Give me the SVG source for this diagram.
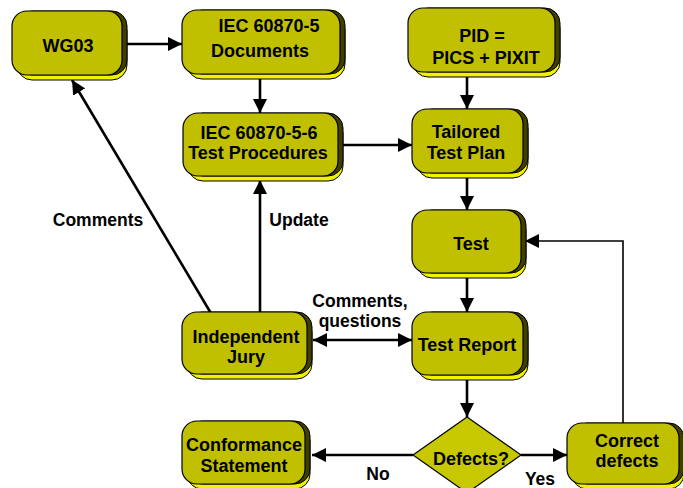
<svg xmlns="http://www.w3.org/2000/svg" width="683" height="488" viewBox="0 0 683 488">
  <style>
    .base { fill: #f2f200; stroke: #000; stroke-width: 1; }
    .side { fill: #3f3f00; stroke: #000; stroke-width: 1; }
    .face { fill: #c0c000; stroke: #000; stroke-width: 1.2; }
    .dia { fill: #c8c800; stroke: #000; stroke-width: 1.2; }
    text { font-family: "Liberation Sans", Arial, sans-serif; font-weight: bold; font-size: 18px; fill: #000; text-anchor: middle; }
    .lbl { font-size: 17.5px; }
    .wire { fill: none; stroke: #000; stroke-width: 2.6; }
    .thin { stroke-width: 1.6; }
  </style>
  <defs>
    <marker id="arrow" viewBox="0 0 14 14" refX="14" refY="7" markerWidth="14" markerHeight="14" markerUnits="userSpaceOnUse" orient="auto">
      <path d="M0,0 L14,7 L0,14 Z" fill="#000"/>
    </marker>
    <marker id="arrowStart" viewBox="0 0 14 14" refX="0" refY="7" markerWidth="14" markerHeight="14" markerUnits="userSpaceOnUse" orient="auto">
      <path d="M14,0 L0,7 L14,14 Z" fill="#000"/>
    </marker>
  </defs>

  <!-- connectors -->
  <g id="connectors">
    <line class="wire" x1="127" y1="44" x2="182" y2="44" marker-end="url(#arrow)"/>
    <line class="wire" x1="260" y1="78" x2="260" y2="113" marker-end="url(#arrow)"/>
    <line class="wire" x1="342" y1="145" x2="412" y2="145" marker-end="url(#arrow)"/>
    <line class="wire" x1="467" y1="75" x2="467" y2="109" marker-end="url(#arrow)"/>
    <line class="wire" x1="467" y1="177" x2="467" y2="210" marker-end="url(#arrow)"/>
    <line class="wire" x1="467" y1="277" x2="467" y2="312" marker-end="url(#arrow)"/>
    <line class="wire" x1="467" y1="379" x2="467" y2="417" marker-end="url(#arrow)"/>
    <line class="wire" x1="413" y1="455" x2="312" y2="455" marker-end="url(#arrow)"/>
    <line class="wire" x1="521" y1="455" x2="567" y2="455" marker-end="url(#arrow)"/>
    <polyline class="wire thin" points="623,423 623,241 525,241" marker-end="url(#arrow)"/>
    <line class="wire" x1="313" y1="340" x2="412" y2="340" marker-start="url(#arrowStart)" marker-end="url(#arrow)"/>
    <line class="wire" x1="260" y1="312" x2="260" y2="180" marker-end="url(#arrow)"/>
    <line class="wire" x1="212" y1="315" x2="72" y2="80" marker-end="url(#arrow)"/>
    <text class="lbl" x="98" y="226">Comments</text>
    <text class="lbl" x="299" y="226">Update</text>
    <text class="lbl" x="360" y="307">Comments,</text>
    <text class="lbl" x="360" y="327">questions</text>
    <text class="lbl" x="378" y="480">No</text>
    <text class="lbl" x="540" y="485">Yes</text>
  </g>

  <g id="wg03">
    <rect class="base" x="17" y="16" width="110" height="64" rx="15"/>
    <rect class="side" x="17" y="11" width="110" height="64" rx="15"/>
    <rect class="face" x="12" y="11" width="110" height="64" rx="15"/>
    <text x="68" y="52">WG03</text>
  </g>

  <g id="documents">
    <rect class="base" x="187" y="15" width="158" height="64" rx="15"/>
    <rect class="side" x="187" y="10" width="158" height="64" rx="15"/>
    <rect class="face" x="182" y="10" width="158" height="64" rx="15"/>
    <text x="269" y="32">IEC 60870-5</text>
    <text x="260" y="57">Documents</text>
  </g>

  <g id="test-procedures">
    <rect class="base" x="188" y="118" width="155" height="63" rx="15"/>
    <rect class="side" x="188" y="113" width="155" height="63" rx="15"/>
    <rect class="face" x="183" y="113" width="155" height="63" rx="15"/>
    <text x="259" y="139">IEC 60870-5-6</text>
    <text x="258" y="159">Test Procedures</text>
  </g>

  <g id="pid">
    <rect class="base" x="413" y="13" width="147" height="64" rx="15"/>
    <rect class="side" x="413" y="8" width="147" height="64" rx="15"/>
    <rect class="face" x="408" y="8" width="147" height="64" rx="15"/>
    <text x="482" y="42">PID =</text>
    <text x="486" y="64">PICS + PIXIT</text>
  </g>

  <g id="tailored-plan">
    <rect class="base" x="417" y="114" width="111" height="64" rx="15"/>
    <rect class="side" x="417" y="109" width="111" height="64" rx="15"/>
    <rect class="face" x="412" y="109" width="111" height="64" rx="15"/>
    <text x="466" y="138">Tailored</text>
    <text x="466" y="159">Test Plan</text>
  </g>

  <g id="test">
    <rect class="base" x="417" y="215" width="109" height="63" rx="15"/>
    <rect class="side" x="417" y="210" width="109" height="63" rx="15"/>
    <rect class="face" x="412" y="210" width="109" height="63" rx="15"/>
    <text x="471" y="250">Test</text>
  </g>

  <g id="test-report">
    <rect class="base" x="417" y="317" width="111" height="63" rx="15"/>
    <rect class="side" x="417" y="312" width="111" height="63" rx="15"/>
    <rect class="face" x="412" y="312" width="111" height="63" rx="15"/>
    <text x="467" y="351">Test Report</text>
  </g>

  <g id="jury">
    <rect class="base" x="187" y="317" width="125" height="62" rx="15"/>
    <rect class="side" x="187" y="312" width="125" height="62" rx="15"/>
    <rect class="face" x="182" y="312" width="125" height="62" rx="15"/>
    <text x="246" y="343">Independent</text>
    <text x="246" y="363">Jury</text>
  </g>

  <g id="conformance">
    <rect class="base" x="187" y="426" width="123" height="63" rx="15"/>
    <rect class="side" x="187" y="421" width="123" height="63" rx="15"/>
    <rect class="face" x="182" y="421" width="123" height="63" rx="15"/>
    <text x="244" y="451">Conformance</text>
    <text x="244" y="472">Statement</text>
  </g>

  <g id="defects">
    <polygon class="dia" points="467,417 521,455 467,493 413,455"/>
    <text x="471" y="465">Defects?</text>
  </g>

  <g id="correct-defects">
    <rect class="base" x="572" y="428" width="112" height="61" rx="15"/>
    <rect class="side" x="572" y="423" width="112" height="61" rx="15"/>
    <rect class="face" x="567" y="423" width="112" height="61" rx="15"/>
    <text x="627" y="447">Correct</text>
    <text x="627" y="467">defects</text>
  </g>
</svg>
